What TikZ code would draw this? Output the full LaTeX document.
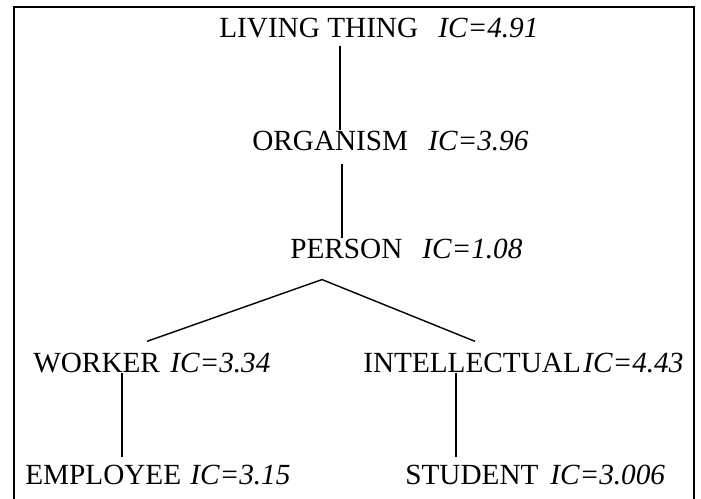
\documentclass[tikz,border=0pt]{standalone}
\usepackage{fontspec}
\setmainfont{Liberation Serif}

\begin{document}
\begin{tikzpicture}[
          concept/.style={inner sep=0pt, anchor=base west, font=\fontsize{20.8}{25}\selectfont},
          score/.style={concept, font=\fontsize{20.8}{25}\selectfont\itshape},
          link/.style={black, line width=1pt},
          frame/.style={black, line width=1.5pt}
        ]
          \useasboundingbox (0,0) rectangle (17.525,-12.475);
          \draw[frame] (0.35,-12.475) |- (17.35,-0.175) -- (17.35,-12.475);

          \node (living) [concept] at (5.475,-0.95) {LIVING THING};
          \node (livingic) [score] at (10.95,-0.95) {IC=4.91};

          \node (organism) [concept] at (6.3,-3.75) {ORGANISM};
          \node (organismic) [score] at (10.7,-3.75) {IC=3.96};

          \node (person) [concept] at (7.25,-6.45) {PERSON};
          \node (personic) [score] at (10.55,-6.45) {IC=1.08};

          \node (worker) [concept] at (0.825,-9.3) {WORKER};
          \node (workeric) [score] at (4.25,-9.3) {IC=3.34};

          \node (intellectual) [concept] at (9.075,-9.3) {INTELLECTUAL};
          \node (intellectualic) [score] at (14.575,-9.3) {IC=4.43};

          \node (employee) [concept] at (0.625,-12.1) {EMPLOYEE};
          \node (employeeic) [score] at (4.75,-12.1) {IC=3.15};

          \node (student) [concept] at (10.125,-12.1) {STUDENT};
          \node (studentic) [score] at (13.75,-12.1) {IC=3.006};

          \coordinate (fork) at ([yshift=-0.525cm] person.south -| 8.05,0);

          \draw[link] ([yshift=-0.175cm] living.south -| 8.5,0) -- (organism.north -| 8.5,0);
          \draw[link] ([yshift=-0.325cm] organism.south -| 8.55,0) -- (person.north -| 8.55,0);
          \draw[link] ([yshift=0.275cm] worker.north -| 3.675,0) -- (fork) -- ([yshift=0.275cm] intellectual.north -| 11.875,0);
          \draw[link] (worker.south -| 3.05,0) -- ([yshift=0.175cm] employee.north -| 3.05,0);
          \draw[link] (intellectual.south -| 11.4,0) -- ([yshift=0.175cm] student.north -| 11.4,0);
        \end{tikzpicture}
\end{document}
